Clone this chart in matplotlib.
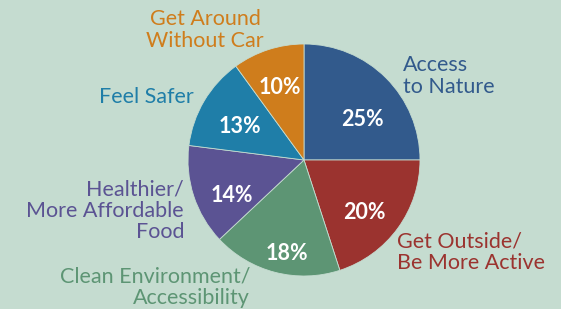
import matplotlib
matplotlib.use("Agg")
import matplotlib.pyplot as plt
import numpy as np

categories = ["Access\nto Nature", "Get Outside/\nBe More Active", "Clean Environment/\nAccessibility",
              "Healthier/\nMore Affordable\nFood", "Feel Safer", "Get Around\nWithout Car"]
values = [25, 20, 18, 14, 13, 10]
colors = ["#325a8c", "#9b332f", "#5d9574", "#5b5393", "#1f7ea8", "#cf7d1c"]
bg = "#c5dcd0"

W, H = 561, 309
cx, cy, R = 304, 160, 116

fig = plt.figure(figsize=(W/100, H/100), dpi=100, facecolor=bg)
ax = fig.add_axes([0, 0, 1, 1])
ax.set_facecolor(bg)

wedges, _ = ax.pie(values, colors=colors, startangle=90, counterclock=False,
                   wedgeprops=dict(edgecolor=bg, linewidth=0.6))
ax.set_xlim(-cx / R, (W - cx) / R)
ax.set_ylim((cy - H) / R, cy / R)
ax.set_aspect('auto')
ax.axis('off')

def px(x, y):
    return (x - cx) / R, (cy - y) / R

font = "Lato"
# percent labels
rfac = [0.61, 0.69, 0.82, 0.69, 0.62, 0.66]
aoff = [-10, -5, 4, 8, 3, 0]
for w, v, rf, ao in zip(wedges, values, rfac, aoff):
    ang = np.deg2rad((w.theta1 + w.theta2) / 2 + ao)
    ax.text(rf * np.cos(ang), rf * np.sin(ang), f"{v}%", color="white", fontsize=15.5,
            fontweight="bold", ha="center", va="center", family=font)

# category labels
lab_pos = [(403, 76, "left"), (397, 252, "left"), (250, 287, "right"),
           (184, 211, "right"), (194, 97, "right"), (205, 30, "center")]
for lab, c, (x, y, ha) in zip(categories, colors, lab_pos):
    X, Y = px(x, y)
    ax.text(X, Y, lab, color=c, fontsize=15.5, ha=ha, va="center", family=font,
            multialignment=ha, linespacing=1.08)

fig.savefig("out.png", dpi=100, facecolor=bg)
